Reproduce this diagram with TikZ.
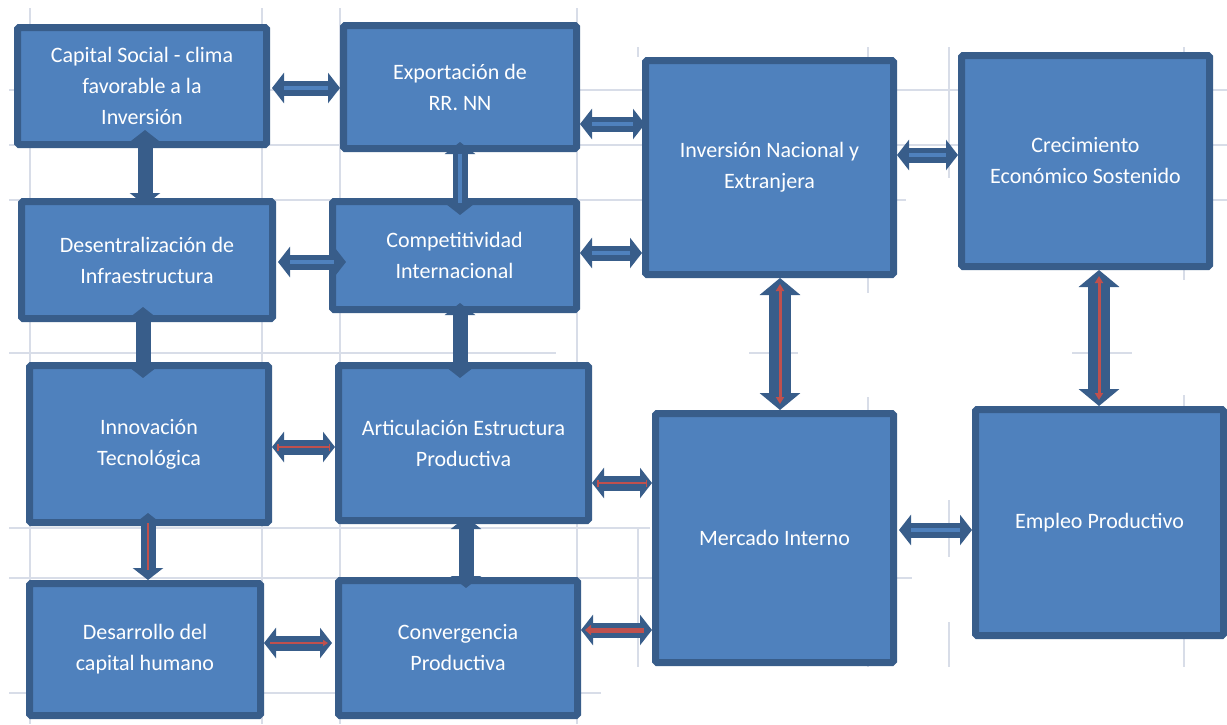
\documentclass[tikz,border=0pt]{standalone}
\usepackage{fontspec}
\newfontfamily\boxfont{Carlito}
\usetikzlibrary{arrows.meta,calc}
\definecolor{boxfill}{HTML}{4F81BD}
\definecolor{boxline}{HTML}{385D8A}
\definecolor{redc}{HTML}{C0504D}
\definecolor{gridc}{HTML}{D8DDE8}
\tikzset{
  box/.style={draw=boxline, fill=boxfill, line width=7pt, rounded corners=1.5pt,
    text=white, align=center, inner sep=0pt,
    font=\boxfont\fontsize{22}{31}\selectfont},
  gridline/.style={draw=gridc, line width=2pt},
  conn/.style={draw=boxline, line width=15pt,
    arrows={Triangle[width=30pt,length=12pt]-Triangle[width=30pt,length=12pt]}},
  bigconn/.style={draw=boxline, line width=22pt,
    arrows={Triangle[width=40pt,length=17pt]-Triangle[width=40pt,length=17pt]}},
  lightin/.style={postaction={draw=boxfill, line width=4pt, arrows=-,
    shorten <=12pt, shorten >=12pt}},
  redbig/.style={postaction={draw=redc, line width=3pt,
    arrows={Triangle[width=8pt,length=7pt]-Triangle[width=8pt,length=7pt]},
    shorten <=6pt, shorten >=6pt}},
  redbar/.style={postaction={draw=redc, line width=1.5pt,
    arrows={Bar[width=7pt]-Bar[width=7pt]}, shorten <=5pt, shorten >=5pt}},
  redplain/.style={postaction={draw=redc, line width=1.5pt, arrows=-,
    shorten <=10pt, shorten >=10pt}},
  redright/.style={postaction={draw=redc, line width=2pt,
    arrows={-Triangle[width=6pt,length=5pt]}, shorten <=6pt, shorten >=4pt}},
  redleft/.style={postaction={draw=redc, line width=5pt,
    arrows={Triangle[width=10pt,length=6pt]-}, shorten <=4pt, shorten >=8pt}},
}
\begin{document}
\begin{tikzpicture}[x=1pt,y=-1pt]
\useasboundingbox (0,0) rectangle (1227,724);
% background spreadsheet grid
\foreach \gx in {30,262,340,577} {\draw[gridline] (\gx,8) -- (\gx,724);}
\draw[gridline] (638,47) -- (638,57) (638,527) -- (638,667);
\draw[gridline] (868,47) -- (868,293) (868,397) -- (868,667);
\draw[gridline] (949,47) -- (949,178) (949,500) -- (949,557) (949,622) -- (949,667);
\draw[gridline] (1184,47) -- (1184,280) (1184,395) -- (1184,667);
\draw[gridline] (9,90) -- (1227,90);
\draw[gridline] (9,145) -- (1227,145);
\draw[gridline] (9,200) -- (906,200) (1212,200) -- (1227,200);
\draw[gridline] (9,353) -- (556,353) (749,353) -- (798,353) (1072,353) -- (1132,353);
\draw[gridline] (9,528) -- (650,528);
\draw[gridline] (9,578) -- (912,578);
\draw[gridline] (9,693) -- (601,693);
% boxes
\node[box, minimum width=249pt, minimum height=117pt] (cap) at (142,86)
  {Capital Social - clima\\favorable a la\\Inversión};
\node[box, minimum width=233pt, minimum height=123pt] (exp) at (460,87)
  {Exportación de\\RR. NN};
\node[box, minimum width=248pt, minimum height=214pt] (inv) at (769.5,167.5)
  {Inversión Nacional y\\Extranjera};
\node[box, minimum width=248pt, minimum height=211pt] (cre) at (1085.5,161)
  {Crecimiento\\Económico Sostenido};
\node[box, minimum width=251pt, minimum height=117pt] (des) at (147,260)
  {Desentralización de\\Infraestructura};
\node[box, minimum width=244pt, minimum height=108pt] (com) at (454.5,255.5)
  {Competitividad\\Internacional};
\node[box, minimum width=239pt, minimum height=157pt] (inn) at (149,444)
  {Innovación\\Tecnológica};
\node[box, minimum width=250pt, minimum height=155pt] (art) at (463.5,443)
  {Articulación Estructura\\Productiva};
\node[box, minimum width=231pt, minimum height=132pt] (dch) at (145,649.5)
  {Desarrollo del\\capital humano};
\node[box, minimum width=239pt, minimum height=135pt] (con) at (458,648)
  {Convergencia\\Productiva};
\node[box, minimum width=238pt, minimum height=249pt] (mer) at (774.5,538)
  {Mercado Interno};
\node[box, minimum width=248pt, minimum height=226pt] (emp) at (1099.5,522.5)
  {Empleo Productivo};
% connectors
\draw[conn, lightin] ($(cap.east)+(2,2)$) -- ($(cap.east -| exp.west)+(0,2)$);
\draw[conn] ($(cap.south)+(3,-18)$) -- ($(cap.south |- des.north)+(3,7)$);
\draw[conn, lightin] ($(exp.south)+(0,-10)$) -- ($(exp.south |- com.north)+(0,17)$);
\draw[conn, lightin] ($(exp.east)+(0,37)$) -- ($(exp.east -| inv.west)+(3,37)$);
\draw[conn, lightin] ($(des.east)+(2,2)$) -- ($(des.east -| com.west)+(17,2)$);
\draw[conn, lightin] ($(com.east)+(0,-2.5)$) -- ($(com.east -| inv.west)+(0,-2.5)$);
\draw[conn, lightin] ($(inv.east)+(0,-12.5)$) -- ($(inv.east -| cre.west)+(0,-12.5)$);
\draw[conn] ($(des.south)+(-4,-15)$) -- ($(des.south |- inn.north)+(-4,16)$);
\draw[conn] ($(com.south)+(5.5,-10)$) -- ($(com.south |- art.north)+(5.5,16)$);
\draw[bigconn, redbig] ($(inv.south)+(10.5,0)$) -- ($(inv.south |- mer.north)+(10.5,0)$);
\draw[bigconn, redbig] ($(cre.south)+(13.5,0)$) -- ($(cre.south |- emp.north)+(13.5,0)$);
\draw[conn, redbar] ($(inn.east)+(0,3)$) -- ($(inn.east -| art.west)+(0,3)$);
\draw[conn, redbar] ($(art.east)+(0,40)$) -- ($(art.east -| mer.west)+(0,40)$);
\draw[conn, redplain] ($(inn.south)+(-1,-13)$) -- ($(inn.south |- dch.north)+(-1,0)$);
\draw[conn] ($(art.south)+(2.5,-7)$) -- ($(art.south |- con.north)+(2.5,11)$);
\draw[conn, redright] ($(dch.east)+(0,-6.5)$) -- ($(dch.east -| con.west)+(-3,-6.5)$);
\draw[conn, redleft] ($(con.east)+(0,-18)$) -- ($(con.east -| mer.west)+(0,-18)$);
\draw[conn, lightin] ($(mer.east)+(2,-8)$) -- ($(mer.east -| emp.west)+(0,-8)$);
\end{tikzpicture}
\end{document}
